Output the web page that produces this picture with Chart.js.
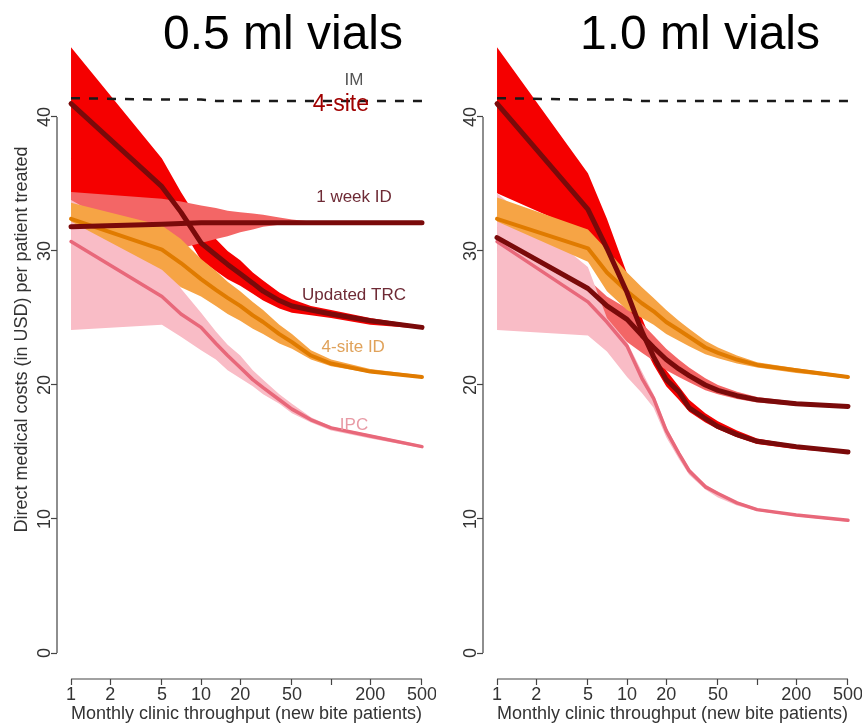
<!DOCTYPE html>
<html>
<head>
<meta charset="utf-8">
<script src="https://cdn.jsdelivr.net/npm/chart.js@4.4.1/dist/chart.umd.min.js"></script>
<style>
  body { margin: 0; background: #fff; }
  #wrap { position: relative; width: 862px; height: 725px; overflow: hidden; }
  canvas { position: absolute; top: 0; }
  #left { left: 0; }
  #right { left: 426px; }
  .panelTitle {
    position: absolute; top: 9px; transform: translateX(-50%);
    font: 48px "Liberation Sans", Arial, sans-serif; line-height: 48px;
    color: #000; white-space: nowrap;
  }
</style>
</head>
<body>
<div id="wrap">
  <canvas id="left" width="436" height="725"></canvas>
  <canvas id="right" width="436" height="725"></canvas>
  <div class="panelTitle" style="left:283px">0.5 ml vials</div>
  <div class="panelTitle" style="left:700px">1.0 ml vials</div>
</div>
<script>
// monthly clinic throughput (x) and axis ticks
const throughput = [1, 5, 7, 10, 13, 16, 20, 25, 30, 40, 50, 70, 100, 200, 500];
const xTicks = [1, 2, 5, 10, 20, 50, 100, 200, 500];
const yTicks = [0, 10, 20, 30, 40];

// 0.5 ml vials
const halfIM    = [41.4, 41.3, 41.3, 41.3, 41.2, 41.2, 41.2, 41.2, 41.2, 41.2, 41.2, 41.2, 41.2, 41.2, 41.2];
const halfTrc   = [41.0, 34.8, 32.9, 30.6, 29.7, 29.0, 28.3, 27.6, 27.0, 26.3, 25.9, 25.6, 25.3, 24.8, 24.3];
const halfTrcLo = [33.8, 33.4, 31.8, 29.3, 28.5, 27.9, 27.4, 26.8, 26.3, 25.7, 25.4, 25.2, 25.0, 24.5, 24.2];
const halfTrcHi = [45.2, 36.9, 34.4, 32.0, 30.9, 30.0, 29.3, 28.4, 27.8, 26.9, 26.4, 25.9, 25.6, 25.0, 24.4];
const halfWk    = [31.8, 32.0, 32.05, 32.1, 32.1, 32.1, 32.1, 32.1, 32.1, 32.1, 32.1, 32.1, 32.1, 32.1, 32.1];
const halfWkLo  = [30.5, 30.3, 30.2, 30.6, 30.9, 31.1, 31.4, 31.6, 31.8, 31.95, 32.0, 32.0, 32.0, 32.0, 32.0];
const halfWkHi  = [34.4, 33.9, 33.7, 33.4, 33.2, 33.0, 32.9, 32.8, 32.7, 32.5, 32.35, 32.2, 32.15, 32.1, 32.1];
const halfSid   = [32.4, 30.1, 29.1, 27.9, 27.1, 26.5, 25.9, 25.2, 24.7, 23.8, 23.2, 22.2, 21.6, 21.0, 20.6];
const halfSidLo = [32.2, 28.6, 27.3, 26.6, 25.9, 25.3, 24.8, 24.2, 23.8, 23.1, 22.7, 21.9, 21.4, 20.9, 20.5];
const halfSidHi = [33.6, 31.9, 30.9, 29.4, 28.5, 27.7, 27.0, 26.2, 25.6, 24.5, 23.8, 22.6, 21.9, 21.2, 20.7];
const halfIpc   = [30.7, 26.6, 25.3, 24.3, 23.1, 22.2, 21.3, 20.4, 19.8, 18.9, 18.2, 17.4, 16.8, 16.2, 15.4];
const halfIpcLo = [24.1, 24.5, 23.6, 22.6, 21.9, 21.1, 20.5, 19.9, 19.3, 18.6, 17.9, 17.2, 16.6, 16.0, 15.3];
const halfIpcHi = [33.8, 30.0, 27.2, 25.4, 24.0, 23.0, 22.2, 21.1, 20.4, 19.3, 18.6, 17.6, 16.9, 16.3, 15.5];

// 1.0 ml vials
const oneIM     = [41.4, 41.3, 41.3, 41.3, 41.2, 41.2, 41.2, 41.2, 41.2, 41.2, 41.2, 41.2, 41.2, 41.2, 41.2];
const oneTrc    = [41.0, 33.1, 30.2, 26.9, 24.0, 22.1, 20.4, 19.5, 18.3, 17.5, 16.9, 16.3, 15.8, 15.4, 15.0];
const oneTrcLo  = [34.3, 31.3, 28.8, 25.9, 23.2, 21.5, 19.9, 18.9, 18.0, 17.2, 16.7, 16.1, 15.6, 15.2, 14.9];
const oneTrcHi  = [45.2, 35.8, 32.4, 28.3, 25.0, 22.9, 21.1, 19.9, 18.9, 17.9, 17.3, 16.6, 16.0, 15.5, 15.1];
const oneWk     = [31.0, 27.2, 25.9, 24.9, 23.7, 22.8, 21.9, 21.2, 20.7, 20.0, 19.6, 19.2, 18.9, 18.6, 18.4];
const oneWkLo   = [30.0, 26.2, 24.0, 23.2, 22.4, 21.8, 21.1, 20.6, 20.2, 19.6, 19.3, 18.95, 18.7, 18.45, 18.3];
const oneWkHi   = [31.8, 27.9, 26.6, 25.7, 24.6, 23.7, 22.7, 21.9, 21.3, 20.5, 20.0, 19.5, 19.1, 18.75, 18.5];
const oneSid    = [32.4, 30.2, 28.4, 27.0, 26.1, 25.5, 24.7, 24.1, 23.6, 22.8, 22.4, 21.9, 21.5, 21.1, 20.6];
const oneSidLo  = [32.2, 29.2, 27.0, 25.6, 25.0, 24.5, 23.8, 23.3, 22.9, 22.3, 22.0, 21.6, 21.3, 20.9, 20.5];
const oneSidHi  = [34.0, 31.6, 30.1, 28.4, 27.3, 26.5, 25.6, 24.8, 24.2, 23.3, 22.8, 22.2, 21.7, 21.25, 20.7];
const oneIpc    = [30.7, 26.2, 24.7, 22.9, 20.5, 19.0, 16.6, 14.9, 13.6, 12.4, 11.9, 11.2, 10.7, 10.3, 9.9];
const oneIpcLo  = [24.1, 23.7, 22.5, 20.6, 19.4, 18.3, 16.1, 14.5, 13.3, 12.2, 11.6, 11.0, 10.6, 10.2, 9.8];
const oneIpcHi  = [34.3, 28.8, 25.0, 23.2, 21.0, 19.3, 16.9, 15.1, 13.8, 12.6, 12.0, 11.3, 10.8, 10.35, 9.95];

const FONT = '"Liberation Sans", Arial, sans-serif';
Chart.defaults.font.family = FONT;

function pts(ys) {
  return throughput.map((x, i) => ({ x: x, y: ys[i] }));
}

function line(ys, colour, width, dash) {
  return {
    data: pts(ys), borderColor: colour, borderWidth: width, borderDash: dash || [],
    borderCapStyle: dash ? 'butt' : 'round', borderJoinStyle: 'round',
    pointRadius: 0, fill: false, tension: 0
  };
}

// lower edge first, upper edge fills down to it
function band(lo, hi, colour) {
  return [
    { data: pts(lo), borderWidth: 0, pointRadius: 0, fill: false, tension: 0 },
    { data: pts(hi), borderWidth: 0, pointRadius: 0, fill: '-1', backgroundColor: colour, tension: 0 }
  ];
}

// R style axis lines: only from first to last tick
const rAxes = {
  id: 'rAxes',
  afterDraw(chart) {
    const { ctx, chartArea, scales } = chart;
    const x = scales.x, y = scales.y;
    ctx.save();
    ctx.strokeStyle = '#444';
    ctx.lineWidth = 1.2;
    ctx.beginPath();
    ctx.moveTo(x.getPixelForValue(xTicks[0]), chartArea.bottom);
    ctx.lineTo(x.getPixelForValue(xTicks[xTicks.length - 1]), chartArea.bottom);
    ctx.moveTo(chartArea.left, y.getPixelForValue(yTicks[0]));
    ctx.lineTo(chartArea.left, y.getPixelForValue(yTicks[yTicks.length - 1]));
    ctx.stroke();
    ctx.restore();
  }
};

// text labels beside the curves
const notes = {
  id: 'notes',
  afterDatasetsDraw(chart, args, opts) {
    const { ctx, scales } = chart;
    (opts.items || []).forEach(n => {
      ctx.save();
      ctx.font = n.size + 'px ' + FONT;
      ctx.fillStyle = n.color;
      ctx.textAlign = 'center';
      ctx.textBaseline = 'middle';
      ctx.fillText(n.text, scales.x.getPixelForValue(n.x), scales.y.getPixelForValue(n.y));
      ctx.restore();
    });
  }
};

function makePanel(id, s, showYTitle, items) {
  const datasets = [
    line(s.im, '#1a1a1a', 2.5, [9, 9]),
    line(s.trc, '#7a0a0a', 5),
    line(s.wk, '#7a0a0a', 5),
    line(s.sid, '#e07b00', 4),
    line(s.ipc, '#e8687a', 3.5),
    ...band(s.sidLo, s.sidHi, '#f6a445'),
    ...band(s.ipcLo, s.ipcHi, '#f9bcc6'),
    ...band(s.wkLo, s.wkHi, '#f36666'),
    ...band(s.trcLo, s.trcHi, '#f50000')
  ];

  return new Chart(document.getElementById(id), {
    type: 'line',
    data: { datasets },
    options: {
      responsive: false,
      animation: false,
      devicePixelRatio: 1,
      layout: { padding: 0 },
      plugins: {
        legend: { display: false },
        tooltip: { enabled: false },
        notes: { items: items }
      },
      scales: {
        x: {
          type: 'logarithmic',
          min: 0.78, max: 640.8,
          border: { display: false },
          grid: { drawOnChartArea: false, tickLength: 6, tickColor: '#444', tickWidth: 1.2 },
          ticks: {
            autoSkip: false, minRotation: 0, maxRotation: 0, padding: -1,
            color: '#333', font: { size: 18 },
            callback: v => (v === 100 ? '' : String(v))
          },
          afterBuildTicks: sc => { sc.ticks = xTicks.map(v => ({ value: v })); },
          afterFit: sc => { sc.height = 46; sc.paddingLeft = 0; sc.paddingRight = 0; },
          title: {
            display: true, text: 'Monthly clinic throughput (new bite patients)',
            color: '#333', font: { size: 18 }, padding: { top: 0, bottom: 0 }
          }
        },
        y: {
          type: 'linear',
          min: -1.94, max: 48.73,
          border: { display: false },
          grid: { drawOnChartArea: false, tickLength: 6, tickColor: '#444', tickWidth: 1.2 },
          ticks: {
            minRotation: 90, maxRotation: 90, crossAlign: 'center', padding: -4,
            color: '#333', font: { size: 18 }
          },
          afterBuildTicks: sc => { sc.ticks = yTicks.map(v => ({ value: v })); },
          afterFit: sc => { sc.width = 57; sc.paddingTop = 0; sc.paddingBottom = 0; },
          title: {
            display: showYTitle, text: 'Direct medical costs (in USD) per patient treated',
            color: '#333', font: { size: 18 }, padding: { top: 11, bottom: 0 }
          }
        }
      }
    },
    plugins: [rAxes, notes]
  });
}

makePanel('left', {
  im: halfIM, trc: halfTrc, trcLo: halfTrcLo, trcHi: halfTrcHi,
  wk: halfWk, wkLo: halfWkLo, wkHi: halfWkHi,
  sid: halfSid, sidLo: halfSidLo, sidHi: halfSidHi,
  ipc: halfIpc, ipcLo: halfIpcLo, ipcHi: halfIpcHi
}, true, [
  { text: 'IM', x: 150, y: 42.7, size: 17, color: '#555' },
  { text: '4-site', x: 119, y: 40.9, size: 23, color: '#a00000' },
  { text: '1 week ID', x: 150, y: 34.0, size: 17, color: '#6e2a35' },
  { text: 'Updated TRC', x: 150, y: 26.7, size: 17, color: '#6e2a35' },
  { text: '4-site ID', x: 148, y: 22.8, size: 17, color: '#e0a25a' },
  { text: 'IPC', x: 150, y: 17.0, size: 17, color: '#e89aa5' }
]);

makePanel('right', {
  im: oneIM, trc: oneTrc, trcLo: oneTrcLo, trcHi: oneTrcHi,
  wk: oneWk, wkLo: oneWkLo, wkHi: oneWkHi,
  sid: oneSid, sidLo: oneSidLo, sidHi: oneSidHi,
  ipc: oneIpc, ipcLo: oneIpcLo, ipcHi: oneIpcHi
}, false, []);
</script>
</body>
</html>
